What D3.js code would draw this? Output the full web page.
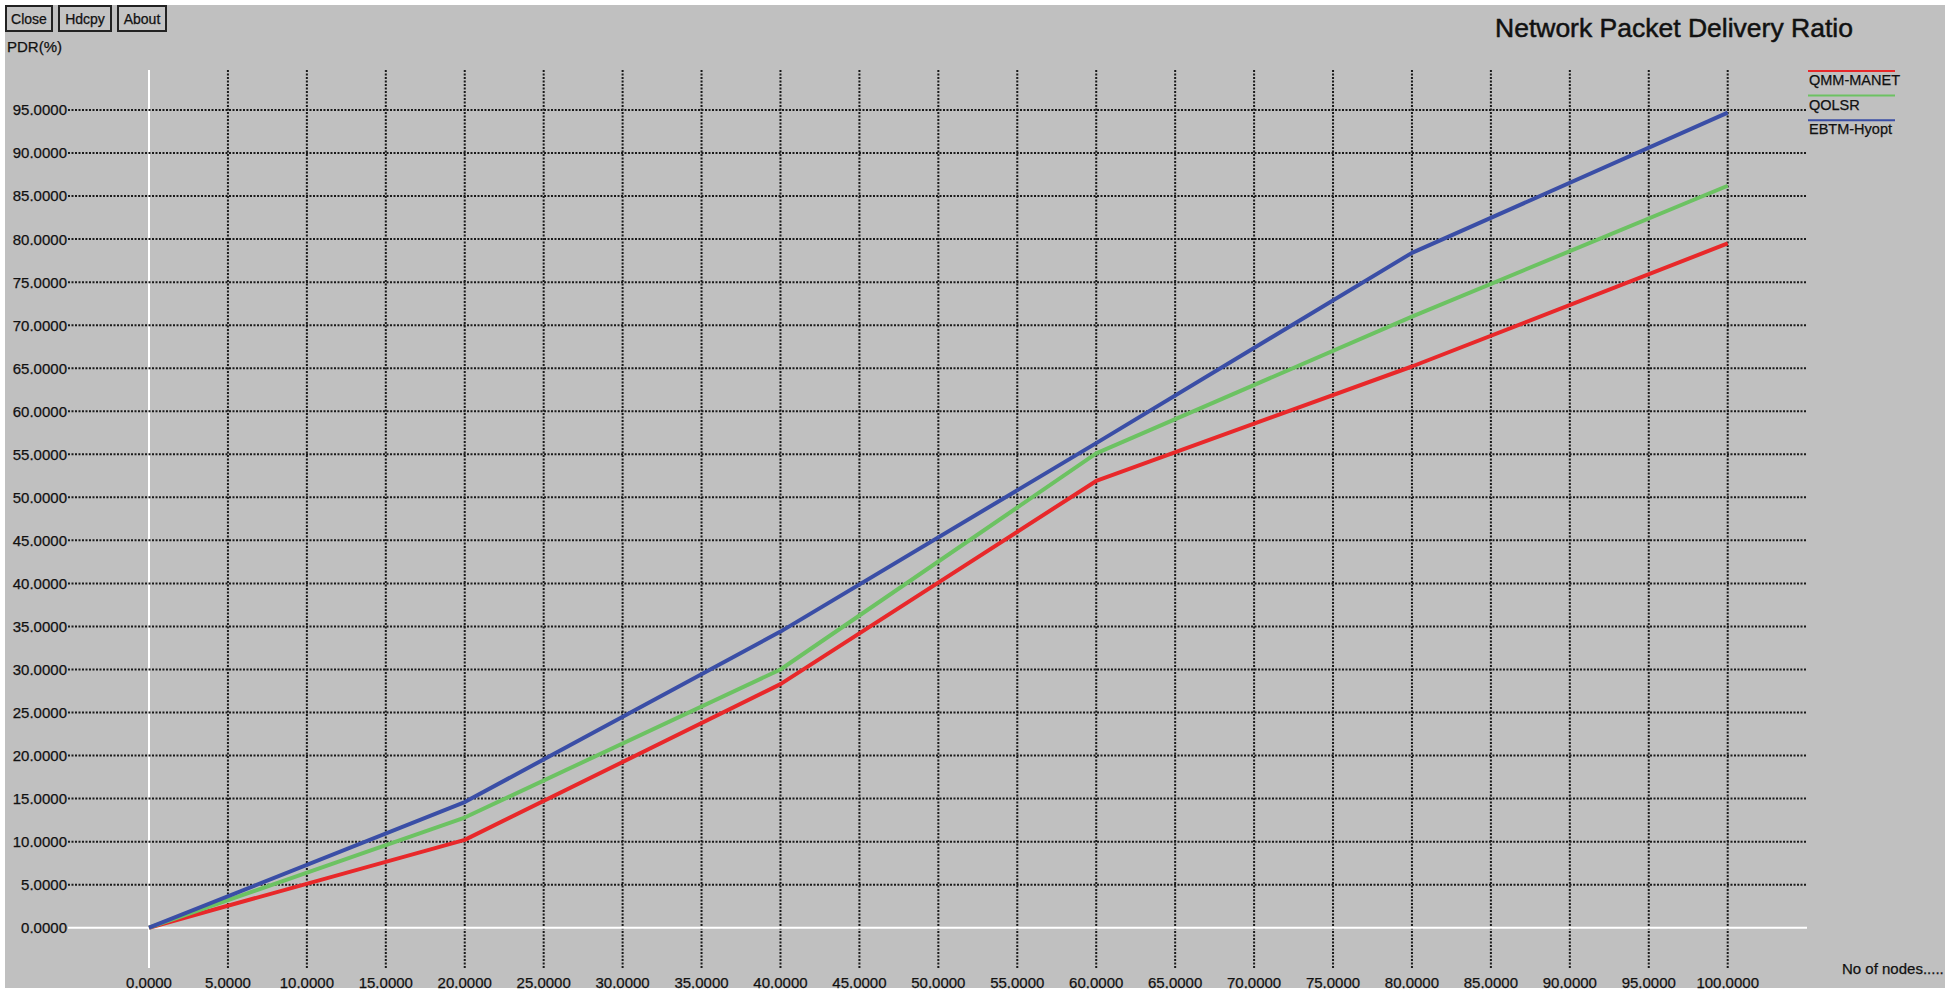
<!DOCTYPE html>
<html>
<head>
<meta charset="utf-8">
<script src="https://cdnjs.cloudflare.com/ajax/libs/d3/7.8.5/d3.min.js"></script>
<style>
  body { margin: 0; background: #fff; }
  svg { display: block; font-family: "Liberation Sans", Arial, sans-serif; }
  svg text { stroke: #111; stroke-width: 0.25px; }
</style>
</head>
<body>
<div class="chart"></div>
<script>
// data
var nodes = [0, 20, 40, 60, 80, 100]
var qmm_manet = [0, 10.2, 28.3, 51.9, 65.2, 79.5]
var qolsr = [0, 12.8, 30.0, 55.1, 71.0, 86.2]
var ebtm_hyopt = [0, 14.6, 34.4, 56.3, 78.4, 94.7]
var series_names = ["QMM-MANET", "QOLSR", "EBTM-Hyopt"]
var series_colors = ["#e8282a", "#6cc262", "#3a4ea6"]
var x_ticks = d3.range(0, 101, 5)
var y_ticks = d3.range(0, 96, 5)
var buttons = ["Close", "Hdcpy", "About"]

var width = 1950, height = 994

var svg = d3.select(".chart").append("svg")
  .attr("width", width)
  .attr("height", height)

svg.append("rect")
  .attr("x", 5).attr("y", 5)
  .attr("width", 1940).attr("height", 983)
  .style("fill", "#c0c0c0")

var x = d3.scaleLinear().domain([0, 100]).range([149, 1727.7])
var y = d3.scaleLinear().domain([0, 95]).range([927.7, 110])

var g = svg.append("g")

// grid: vertical
g.selectAll(".vgrid")
  .data(x_ticks)
.enter().append("line")
  .attr("class", "vgrid")
  .attr("x1", function(d) { return x(d) }).attr("x2", function(d) { return x(d) })
  .attr("y1", 70).attr("y2", 968)
  .style("stroke", function(d) { return d == 0 ? "#fff" : "#1a1a1a" })
  .style("stroke-width", 2)
  .style("stroke-dasharray", function(d) { return d == 0 ? null : "2,1.5" })

// grid: horizontal
g.selectAll(".hgrid")
  .data(y_ticks)
.enter().append("line")
  .attr("class", "hgrid")
  .attr("x1", 68).attr("x2", 1807)
  .attr("y1", function(d) { return y(d) }).attr("y2", function(d) { return y(d) })
  .style("stroke", function(d) { return d == 0 ? "#fff" : "#1a1a1a" })
  .style("stroke-width", 2)
  .style("stroke-dasharray", function(d) { return d == 0 ? null : "2,1.5" })

// tick labels
g.selectAll(".ylabel")
  .data(y_ticks)
.enter().append("text")
  .attr("class", "ylabel")
  .attr("x", 67)
  .attr("y", function(d) { return y(d) })
  .attr("dy", ".36em")
  .attr("text-anchor", "end")
  .style("font-size", "15px")
  .style("fill", "#111")
  .text(function(d) { return d.toFixed(4) })

g.selectAll(".xlabel")
  .data(x_ticks)
.enter().append("text")
  .attr("class", "xlabel")
  .attr("x", function(d) { return x(d) })
  .attr("y", 988)
  .attr("text-anchor", "middle")
  .style("font-size", "15px")
  .style("fill", "#111")
  .text(function(d) { return d.toFixed(4) })

// lines
var all_series = [qmm_manet, qolsr, ebtm_hyopt]
var line = d3.line()
  .x(function(d, i) { return x(nodes[i]) })
  .y(function(d) { return y(d) })

g.selectAll(".series")
  .data(all_series)
.enter().append("path")
  .attr("class", "series")
  .attr("d", line)
  .style("fill", "none")
  .style("stroke", function(d, i) { return series_colors[i] })
  .style("stroke-width", 4)
  .style("stroke-linejoin", "round")

// legend
var legend = svg.selectAll(".legend")
  .data(series_names)
.enter().append("g")
  .attr("class", "legend")
  .attr("transform", function(d, i) { return "translate(1808," + (71 + i * 24.6) + ")" })

legend.append("line")
  .attr("x1", 0).attr("x2", 87)
  .style("stroke", function(d, i) { return series_colors[i] })
  .style("stroke-width", 2)

legend.append("text")
  .attr("x", 1).attr("y", 14)
  .style("font-size", "14.5px")
  .style("fill", "#111")
  .text(function(d) { return d })

// title and axis names
svg.append("text")
  .attr("x", 1495).attr("y", 37)
  .style("font-size", "26.5px")
  .style("stroke-width", "0.5px")
  .style("fill", "#111")
  .text("Network Packet Delivery Ratio")

svg.append("text")
  .attr("x", 7).attr("y", 52)
  .style("font-size", "15px")
  .style("fill", "#111")
  .text("PDR(%)")

svg.append("text")
  .attr("x", 1842).attr("y", 974)
  .style("font-size", "15px")
  .style("fill", "#111")
  .text("No of nodes.....")

// buttons
var bx = [5, 58, 117], bw = [48, 54, 50]
var btn = svg.selectAll(".btn")
  .data(buttons)
.enter().append("g")
  .attr("class", "btn")
  .attr("transform", function(d, i) { return "translate(" + bx[i] + ",5)" })

btn.append("rect")
  .attr("x", 1).attr("y", 1)
  .attr("width", function(d, i) { return bw[i] - 2 }).attr("height", 25)
  .style("fill", "#c4c4c4")
  .style("stroke", "#222")
  .style("stroke-width", 2)

btn.append("text")
  .attr("x", function(d, i) { return bw[i] / 2 }).attr("y", 19)
  .attr("text-anchor", "middle")
  .style("font-size", "14px")
  .style("fill", "#111")
  .text(function(d) { return d })
</script>
</body>
</html>
